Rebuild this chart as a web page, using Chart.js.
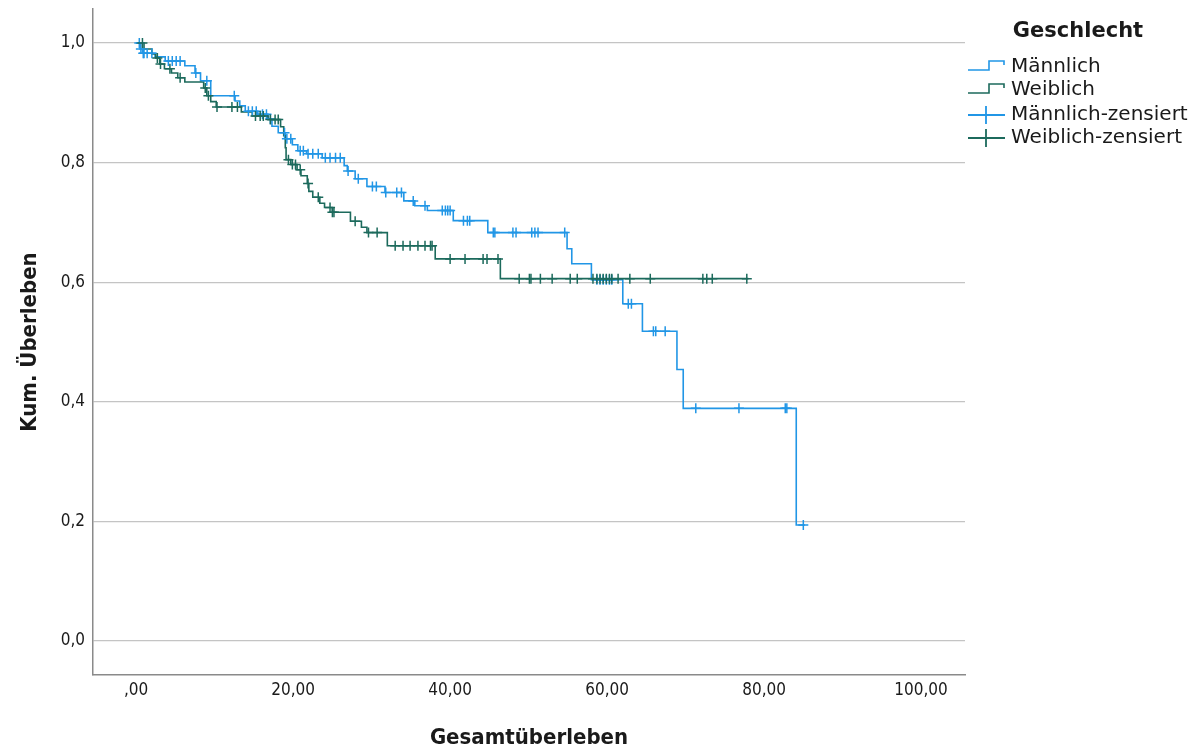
<!DOCTYPE html>
<html>
<head>
<meta charset="utf-8">
<script src="https://cdn.jsdelivr.net/npm/chart.js@4/dist/chart.umd.min.js"></script>
<style>
  html, body { margin: 0; padding: 0; background: #ffffff; }
  #wrap { width: 1199px; height: 749px; position: relative; }
</style>
</head>
<body>
<div id="wrap"><canvas id="km"></canvas></div>
<script>
// Kaplan-Meier survival by sex
const groups = ['Männlich', 'Weiblich'];
const legendTitle = 'Geschlecht';
const censoredSuffix = '-zensiert';
const xAxisTitle = 'Gesamtüberleben';
const yAxisTitle = 'Kum. Überleben';
const xTicks = [0, 20, 40, 60, 80, 100];
const yTicks = [0, 0.2, 0.4, 0.6, 0.8, 1.0];

// event times and cumulative survival after each event
const maleEventTimes = [0.5, 0.8, 2.4, 3.7, 6.2, 7.5, 8.2, 9.5, 12.6, 13.2, 13.9, 15.5, 16.8, 17.3, 18.1,
  19.0, 19.9, 20.6, 21.7, 23.7, 26.5, 26.9, 27.9, 29.4, 31.7, 34.1, 35.5, 37.1, 40.4, 44.8,
  54.9, 55.5, 58.0, 62.0, 64.5, 68.9, 69.7, 84.1];
const maleSurvival = [0.990, 0.983, 0.977, 0.970, 0.962, 0.950, 0.937, 0.912, 0.903, 0.895, 0.886, 0.881, 0.873, 0.861, 0.850,
  0.840, 0.830, 0.820, 0.815, 0.808, 0.795, 0.786, 0.773, 0.760, 0.750, 0.736, 0.728, 0.720, 0.703, 0.683,
  0.656, 0.631, 0.604, 0.564, 0.518, 0.454, 0.389, 0.194];
const maleLastTime = 85.2;
const maleCensored = [0.4, 0.6, 0.9, 1.0, 1.4, 2.0, 4.1, 4.6, 5.1, 5.6, 7.6, 9.0, 12.5, 14.3, 14.8, 15.3, 16.1, 16.6,
  17.1, 18.9, 19.2, 19.7, 20.9, 21.3, 21.9, 22.5, 23.2, 24.1, 24.7, 25.4, 26.0, 27.0, 28.3, 30.1, 30.6,
  31.8, 33.2, 33.8, 35.3, 36.8, 39.0, 39.4, 39.7, 40.0, 41.7, 42.2, 42.5, 45.5, 45.7, 48.0, 48.4, 50.4,
  50.8, 51.2, 54.6, 58.7, 59.1, 59.5, 59.9, 60.3, 60.6, 62.7, 63.1, 65.9, 66.2, 67.4, 71.3, 76.8, 82.7,
  82.9, 85.0];

const femaleEventTimes = [1.0, 2.0, 2.5, 3.0, 3.6, 4.5, 5.3, 6.2, 8.6, 9.0, 9.5, 10.2, 13.4, 14.8, 16.8,
  18.4, 18.8, 19.0, 19.1, 19.7, 20.5, 21.0, 21.8, 22.0, 22.5, 23.4, 24.0, 25.0, 27.3, 28.7,
  29.4, 32.0, 38.1, 46.4];
const femaleSurvival = [0.990, 0.982, 0.975, 0.965, 0.957, 0.950, 0.942, 0.935, 0.925, 0.912, 0.902, 0.893, 0.885, 0.878, 0.872,
  0.860, 0.845, 0.825, 0.805, 0.797, 0.788, 0.778, 0.765, 0.752, 0.742, 0.732, 0.725, 0.717, 0.702, 0.692,
  0.683, 0.661, 0.639, 0.606];
const femaleLastTime = 78.0;
const femaleCensored = [0.8, 2.7, 3.1, 4.3, 5.6, 8.8, 9.2, 10.3, 12.2, 12.9, 15.2, 15.8, 16.2, 17.1, 17.7, 18.1,
  19.4, 19.9, 20.3, 20.9, 21.9, 23.2, 24.7, 25.0, 25.2, 27.9, 29.6, 30.7, 33.0, 34.0, 34.9, 35.9,
  36.8, 37.5, 37.7, 40.0, 41.9, 44.2, 44.7, 46.1, 48.8, 50.1, 50.3, 51.5, 53.0, 55.3, 56.2, 58.2,
  58.7, 59.1, 59.5, 59.9, 60.3, 60.6, 61.4, 62.9, 65.5, 72.2, 72.7, 73.4, 77.8];

const colors = ['#2196e6', '#1c6a5c'];

// step curve: starts at 1, drops at each event, runs on to the last observation
function stepCurve(times, surv, lastTime) {
  const pts = [{ x: 0, y: 1 }];
  times.forEach((t, i) => pts.push({ x: t, y: surv[i] }));
  pts.push({ x: lastTime, y: surv[surv.length - 1] });
  return pts;
}
// survival level of the curve at time t
function survivalAt(times, surv, t) {
  let s = 1;
  for (let i = 0; i < times.length; i++) if (times[i] <= t) s = surv[i];
  return s;
}
function censorMarks(cens, times, surv) {
  return cens.map(t => ({ x: t, y: survivalAt(times, surv, t) }));
}

const fmtX = v => (v === 0 ? ',00' : v.toFixed(2).replace('.', ','));
const fmtY = v => v.toFixed(1).replace('.', ',');

const TEXT = '#1a1a1a';
const tickFont = { family: '"DejaVu Sans Condensed", "DejaVu Sans", sans-serif', size: 17 };
const titleFont = { family: '"DejaVu Sans Condensed", "DejaVu Sans", sans-serif', size: 22, weight: 'bold', lineHeight: 1 };

// legend to the right of the plot: step icons for curves, crosses for censored cases
const kmLegend = {
  id: 'kmLegend',
  afterDraw(chart) {
    const ctx = chart.ctx;
    const x0 = chart.chartArea.right + 3;
    ctx.save();
    ctx.fillStyle = TEXT;
    ctx.textBaseline = 'middle';
    ctx.textAlign = 'center';
    ctx.font = 'bold 21px "DejaVu Sans", sans-serif';
    ctx.fillText(legendTitle, x0 + 110, 32);
    ctx.textAlign = 'left';
    ctx.font = '20px "DejaVu Sans", sans-serif';
    const rows = [67, 90, 115, 138];
    groups.forEach((g, i) => {
      const y = rows[i];
      ctx.strokeStyle = colors[i];
      ctx.lineWidth = 1.6;
      ctx.beginPath();
      ctx.moveTo(x0, y + 3);
      ctx.lineTo(x0 + 21, y + 3);
      ctx.lineTo(x0 + 21, y - 6);
      ctx.lineTo(x0 + 36, y - 6);
      ctx.lineTo(x0 + 36, y - 2);
      ctx.stroke();
      ctx.fillText(g, x0 + 43, y);
    });
    groups.forEach((g, i) => {
      const y = rows[i + 2];
      ctx.strokeStyle = colors[i];
      ctx.lineWidth = 1.8;
      ctx.beginPath();
      ctx.moveTo(x0, y);
      ctx.lineTo(x0 + 37, y);
      ctx.moveTo(x0 + 18, y - 9);
      ctx.lineTo(x0 + 18, y + 9);
      ctx.stroke();
      ctx.fillText(g + censoredSuffix, x0 + 43, y);
    });
    ctx.restore();
  }
};

new Chart(document.getElementById('km'), {
  type: 'scatter',
  data: {
    datasets: [
      {
        label: groups[0],
        data: stepCurve(maleEventTimes, maleSurvival, maleLastTime),
        showLine: true, stepped: true, borderColor: colors[0], borderWidth: 1.6,
        pointRadius: 0, fill: false, order: 3
      },
      {
        label: groups[1],
        data: stepCurve(femaleEventTimes, femaleSurvival, femaleLastTime),
        showLine: true, stepped: true, borderColor: colors[1], borderWidth: 1.6,
        pointRadius: 0, fill: false, order: 2
      },
      {
        label: groups[0] + censoredSuffix,
        data: censorMarks(maleCensored, maleEventTimes, maleSurvival),
        showLine: false, pointStyle: 'cross', pointRadius: 5, pointBorderWidth: 1.5,
        borderColor: colors[0], backgroundColor: colors[0], order: 1
      },
      {
        label: groups[1] + censoredSuffix,
        data: censorMarks(femaleCensored, femaleEventTimes, femaleSurvival),
        showLine: false, pointStyle: 'cross', pointRadius: 5, pointBorderWidth: 1.5,
        borderColor: colors[1], backgroundColor: colors[1], order: 0
      }
    ]
  },
  options: {
    responsive: true,
    maintainAspectRatio: false,
    animation: false,
    events: [],
    layout: { padding: { left: 0, top: 0, right: 234, bottom: 0 } },
    plugins: { legend: { display: false }, tooltip: { enabled: false } },
    scales: {
      x: {
        type: 'linear',
        min: -5.5,
        max: 105.6,
        afterBuildTicks: s => { s.ticks = xTicks.map(v => ({ value: v })); },
        afterFit: s => { s.height = 74; },
        grid: { display: false, drawTicks: false },
        border: { display: true, color: '#8a8a8a', width: 1.5 },
        ticks: { font: tickFont, color: TEXT, padding: 5, maxRotation: 0, callback: v => fmtX(v) },
        title: { display: true, text: xAxisTitle, font: titleFont, color: TEXT, padding: { top: 0, bottom: 0 } }
      },
      y: {
        type: 'linear',
        min: -0.057,
        max: 1.057,
        afterBuildTicks: s => { s.ticks = yTicks.map(v => ({ value: v })); },
        afterFit: s => { s.width = 93; s.paddingTop = 9; s.paddingBottom = 0; },
        grid: { color: '#c4c4c4', lineWidth: 1.3, drawTicks: false },
        border: { display: true, color: '#8a8a8a', width: 1.5 },
        ticks: { font: tickFont, color: TEXT, padding: 8, callback: v => fmtY(v) },
        title: { display: true, text: yAxisTitle, font: titleFont, color: TEXT, padding: { top: 19, bottom: 0 } }
      }
    }
  },
  plugins: [kmLegend]
});
</script>
</body>
</html>
